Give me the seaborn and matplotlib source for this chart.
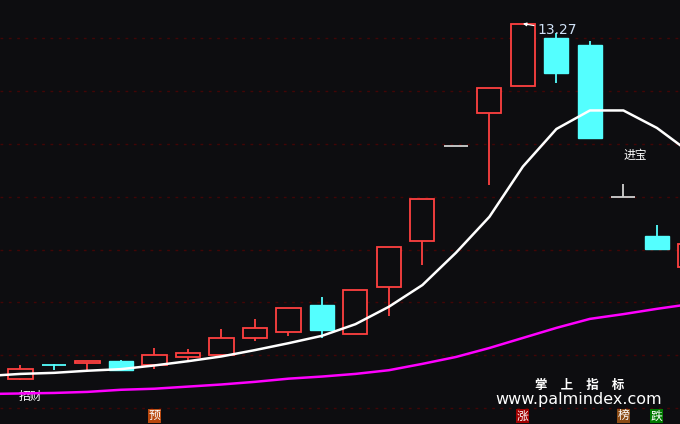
import numpy as np
import pandas as pd
import matplotlib.pyplot as plt
import seaborn as sns

# ---------------- data (prices) ----------------
days = list(range(21))
opens = [6.56, 6.81, 6.85, 6.89, 6.82, 6.97, 7.01, 7.32, 7.44, 7.95, 7.40,
         8.29, 9.16, 10.96, 11.58, 12.09, 13.00, 12.87, 10.00, 9.26, 8.68]
highs = [6.82, 6.84, 6.89, 6.91, 7.14, 7.12, 7.50, 7.69, 7.89, 8.10, 8.23,
         9.05, 9.96, 10.96, 12.06, 13.27, 13.09, 12.94, 10.24, 9.47, 9.20]
lows = [6.53, 6.72, 6.71, 6.71, 6.74, 6.89, 6.99, 7.27, 7.37, 7.32, 7.40,
        7.75, 8.71, 10.96, 10.23, 12.09, 12.14, 11.11, 10.00, 9.02, 8.60]
closes = [6.74, 6.81, 6.89, 6.72, 7.01, 7.05, 7.32, 7.51, 7.89, 7.48, 8.23,
          9.05, 9.96, 10.96, 12.06, 13.27, 12.34, 11.11, 10.00, 9.02, 9.11]

ma_days = list(range(-1, 21))
ma_short = [6.61, 6.65, 6.67, 6.71, 6.74, 6.81, 6.89, 6.98, 7.10, 7.23, 7.37,
            7.59, 7.92, 8.33, 8.94, 9.62, 10.57, 11.28, 11.63, 11.63, 11.30, 10.83]
ma_long = [6.27, 6.28, 6.29, 6.31, 6.35, 6.37, 6.41, 6.45, 6.50, 6.56, 6.60,
           6.65, 6.72, 6.84, 6.97, 7.14, 7.33, 7.52, 7.69, 7.78, 7.88, 7.97]

grid_prices = [6, 7, 8, 9, 10, 11, 12, 13]
max_price = 13.27
max_day = 15

bottom_tags = [(4, "预", "#b8480e"), (15, "涨", "#a00000"),
               (18, "榜", "#8a4a14"), (19, "跌", "#007a00")]

BG = "#0d0d10"
RED = "#ff4040"
CYAN = "#54ffff"
DOJI = "#d0d0d0"

sns.set_style("dark", {"axes.facecolor": BG, "figure.facecolor": BG})
plt.rcParams["font.family"] = ["DejaVu Sans", "Noto Sans CJK SC"]

df = pd.DataFrame({"day": days, "open": opens, "high": highs,
                   "low": lows, "close": closes})
ma = pd.DataFrame({"day": ma_days, "short": ma_short, "long": ma_long})

fig = plt.figure(figsize=(6.8, 4.24), dpi=100)
ax = fig.add_axes([0, 0, 1, 1])
ax.set_facecolor(BG)

# grid
ax.set_yticks(grid_prices)
ax.grid(axis="y", color="#420606", linestyle=(0, (2, 4)), linewidth=1.0)
ax.grid(axis="x", visible=False)

# ---------------- candles ----------------
w = 0.72
for _, r in df.iterrows():
    o, h, l, c = r["open"], r["high"], r["low"], r["close"]
    top, bot = max(o, c), min(o, c)
    if c > o:
        col = RED
        ax.bar(r["day"], top - bot, bottom=bot, width=w, color=BG,
               edgecolor=col, linewidth=1.3, zorder=3)
    elif c < o:
        col = CYAN
        ax.bar(r["day"], top - bot, bottom=bot, width=w, color=col,
               edgecolor=col, linewidth=1.0, zorder=3)
    else:
        col = CYAN if r["day"] == 1 else DOJI
        ax.hlines(o, r["day"] - w / 2, r["day"] + w / 2, color=col,
                  linewidth=1.3, zorder=3)
    if h > top:
        ax.vlines(r["day"], top, h, color=col, linewidth=1.3, zorder=2)
    if l < bot:
        ax.vlines(r["day"], l, bot, color=col, linewidth=1.3, zorder=2)

# moving averages
sns.lineplot(data=ma, x="day", y="short", color="white", linewidth=1.8,
             ax=ax, zorder=4)
sns.lineplot(data=ma, x="day", y="long", color="#ff00ff", linewidth=1.8,
             ax=ax, zorder=4)

# ---------------- texts ----------------
ax.annotate(f"{max_price:.2f}", xy=(max_day, max_price),
            xytext=(max_day + 0.43, max_price - 0.11),
            color="#cfe0f5", fontsize=10, va="center", ha="left",
            arrowprops=dict(arrowstyle="-|>", color="white", lw=0.8,
                            shrinkA=0, shrinkB=0, mutation_scale=5),
            zorder=5)

ax.text(0.31, 6.23, "招财", color="white", fontsize=8.5,
        ha="center", va="center")
ax.text(18.34, 10.77, "进宝", color="white", fontsize=8.5,
        ha="center", va="center")

trans = ax.get_xaxis_transform()
for d, t, bg in bottom_tags:
    ax.text(d, 0.019, t, transform=trans, color="white", fontsize=8.5,
            ha="center", va="center",
            bbox=dict(boxstyle="square,pad=0.05", facecolor=bg,
                      edgecolor="none"))

fig.text(0.853, 0.092, "掌   上   指   标", color="white", fontsize=9,
         fontweight="bold", ha="center", va="center")
fig.text(0.851, 0.057, "www.palmindex.com", color="white", fontsize=11.5,
         ha="center", va="center")

ax.set_xlim(-0.612, 19.69)
ax.set_ylim(5.703, 13.718)
ax.set_xlabel("")
ax.set_ylabel("")
ax.tick_params(left=False, bottom=False, labelleft=False, labelbottom=False)
for s in ax.spines.values():
    s.set_visible(False)

fig.savefig("out.png", dpi=100, facecolor=BG)
